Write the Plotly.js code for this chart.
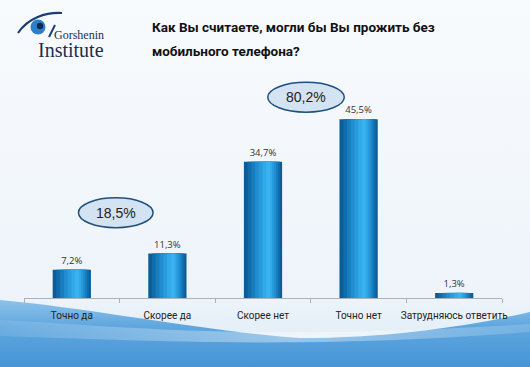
<!DOCTYPE html>
<html>
<head>
<meta charset="utf-8">
<script src="https://cdn.plot.ly/plotly-3.0.1.min.js"></script>
<style>
html,body{margin:0;padding:0;background:#f5f9fc;}
#chart{width:530px;height:367px;background-size:530px 367px;background-repeat:no-repeat;}
</style>
</head>
<body>
<div id="chart"></div>
<script>
// ---- data ----
const categories = ["Точно да", "Скорее да", "Скорее нет", "Точно нет", "Затрудняюсь ответить"];
const values = [7.2, 11.3, 34.7, 45.5, 1.3];
const groupLabels = ["18,5%", "80,2%"];
const titleLines = ["Как Вы считаете, могли бы Вы прожить без", "мобильного телефона?"];
const logoTop = "Gorshenin";
const logoBottom = "Institute";

// ---- background (decorative) ----
const bgSvg = `<svg xmlns="http://www.w3.org/2000/svg" width="530" height="367" viewBox="0 0 530 367">
<defs>
<linearGradient id="g0" x1="0" y1="0" x2="0" y2="1"><stop offset="0" stop-color="#f8fbfd"/><stop offset="0.8" stop-color="#eef4fa"/><stop offset="1" stop-color="#dcebf7"/></linearGradient>
<linearGradient id="g1" x1="0" y1="0" x2="0" y2="1"><stop offset="0" stop-color="#8fc2ea"/><stop offset="0.4" stop-color="#5ea6de"/><stop offset="1" stop-color="#4795d6"/></linearGradient>
<linearGradient id="g2" x1="0" y1="0" x2="1" y2="0"><stop offset="0" stop-color="#ffffff" stop-opacity="0.1"/><stop offset="0.55" stop-color="#ffffff" stop-opacity="0.4"/><stop offset="1" stop-color="#ffffff" stop-opacity="0.15"/></linearGradient>
</defs>
<rect width="530" height="367" fill="url(#g0)"/>
<path d="M0,300 C90,308 210,332 300,338 C390,338 470,326 530,312 L530,367 L0,367 Z" fill="url(#g1)"/>
<path d="M0,320 C120,326 250,342 530,324 L530,332 C300,350 140,340 0,336 Z" fill="url(#g2)"/>
<path d="M18,33 C28,18 46,12 62,13" stroke="#1c3d73" stroke-width="2.2" fill="none"/>
<circle cx="38" cy="27" r="7.5" fill="#2f7fc8"/>
<circle cx="40" cy="26" r="3.2" fill="#0f2a55"/>
<path d="M55,25 L49,37" stroke="#1c3d73" stroke-width="2" fill="none"/>
</svg>`;
const bgSrc = "data:image/svg+xml;charset=utf-8," + encodeURIComponent(bgSvg);
document.getElementById("chart").style.backgroundImage = 'url("' + bgSrc + '")';

// ---- bars with a horizontal cylinder-like gradient (overlaid layers) ----
const baseWidth = 0.4;
const layerFracs = [1, 0.85, 0.7, 0.55, 0.4, 0.25, 0.1];
const layerColors = ["#0b5d98", "#106cab", "#187dbe", "#208dcf", "#289bdd", "#31a8e8", "#3ab2f0"];
const centerShift = 0.06;
const leftRoom = baseWidth / 2 + centerShift;
const rightRoom = baseWidth / 2 - centerShift;

const traces = layerFracs.map((f, i) => {
  const left = centerShift - f * leftRoom;
  const right = centerShift + f * rightRoom;
  const t = {
    type: "bar",
    x: categories,
    y: values,
    width: right - left,
    offset: left,
    marker: {color: layerColors[i], line: {width: 0}},
    hoverinfo: "skip",
    showlegend: false,
    cliponaxis: false
  };
  if (i === 0) {
    t.texttemplate = "%{y:.1f}%";
    t.textposition = "outside";
    t.textfont = {family: "Open Sans, sans-serif", size: 9.5, color: "#333333"};
  }
  return t;
});

// pixel helpers for paper-referenced decorations
const M = {l: 24, r: 28, t: 78, b: 69};
const W = 530, H = 367;
const pw = W - M.l - M.r, ph = H - M.t - M.b;
const px = v => (v - M.l) / pw;
const py = v => (H - M.b - v) / ph;

const titleFont = {family: "Roboto, sans-serif", size: 13.5, color: "#111111", weight: "bold"};
const serif = "Liberation Serif, DejaVu Serif, serif";

const layout = {
  width: W,
  height: H,
  margin: M,
  paper_bgcolor: "rgba(0,0,0,0)",
  plot_bgcolor: "rgba(0,0,0,0)",
  barmode: "overlay",
  separators: ", ",
  showlegend: false,
  xaxis: {
    type: "category",
    showline: true,
    linecolor: "#a9b3bd",
    linewidth: 1,
    ticks: "outside",
    tickson: "boundaries",
    ticklen: 4,
    tickcolor: "#a9b3bd",
    showgrid: false,
    tickangle: 0,
    ticklabelstandoff: 8,
    tickfont: {family: "Roboto, sans-serif", size: 10, color: "#222222"},
    fixedrange: true
  },
  yaxis: {
    visible: false,
    range: [0, 56],
    showgrid: false,
    zeroline: false,
    fixedrange: true
  },
  shapes: [
    {type: "circle", xref: "x", yref: "y", x0: 0.07, x1: 0.85, y0: 17.9, y1: 25.5,
     fillcolor: "#d4e3f1", line: {color: "#1f4f7c", width: 1.5}, layer: "above"},
    {type: "circle", xref: "x", yref: "y", x0: 2.05, x1: 2.85, y0: 47.3, y1: 54.9,
     fillcolor: "#d4e3f1", line: {color: "#1f4f7c", width: 1.5}, layer: "above"}
  ],
  annotations: [
    {xref: "paper", yref: "paper", x: px(150), y: py(27), xanchor: "left", yanchor: "middle",
     text: titleLines[0], showarrow: false, font: titleFont},
    {xref: "paper", yref: "paper", x: px(150), y: py(51), xanchor: "left", yanchor: "middle",
     text: titleLines[1], showarrow: false, font: titleFont},
    {xref: "x", yref: "y", x: 0.46, y: 21.7, text: groupLabels[0], showarrow: false,
     font: {family: "Liberation Sans, Arial, sans-serif", size: 14, color: "#222222"}},
    {xref: "x", yref: "y", x: 2.45, y: 51.1, text: groupLabels[1], showarrow: false,
     font: {family: "Liberation Sans, Arial, sans-serif", size: 14, color: "#222222"}},
    {xref: "paper", yref: "paper", x: px(52), y: py(35), xanchor: "left", yanchor: "middle",
     text: logoTop, showarrow: false, font: {family: serif, size: 12, color: "#1c2d4f"}},
    {xref: "paper", yref: "paper", x: px(36), y: py(50), xanchor: "left", yanchor: "middle",
     text: logoBottom, showarrow: false, font: {family: serif, size: 20, color: "#1c2d4f"}}
  ]
};

Plotly.newPlot("chart", traces, layout, {displayModeBar: false, staticPlot: true});
</script>
</body>
</html>
